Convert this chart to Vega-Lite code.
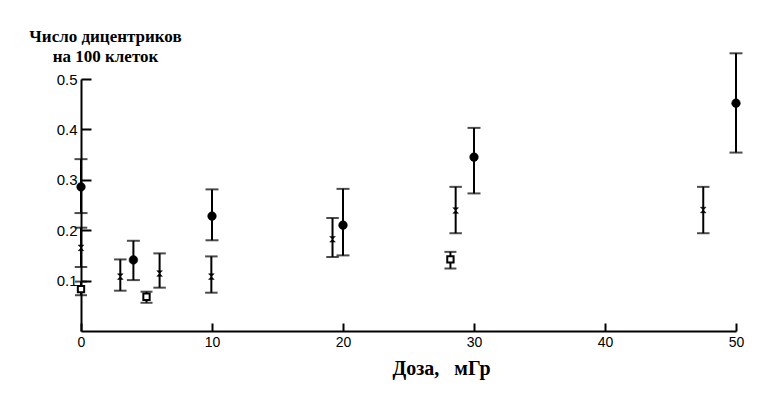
{
  "$schema": "https://vega.github.io/schema/vega-lite/v6.json",
  "width": 655,
  "height": 252,
  "autosize": {"type": "none"},
  "padding": {"left": 81, "top": 79, "right": 42, "bottom": 66},
  "background": "white",
  "config": {"view": {"stroke": null}},
  "data": {"values": [
    {"dose": 0, "series": "circle", "y": 0.286, "lo": 0.234, "hi": 0.341},
    {"dose": 4, "series": "circle", "y": 0.141, "lo": 0.101, "hi": 0.179},
    {"dose": 10, "series": "circle", "y": 0.228, "lo": 0.180, "hi": 0.281},
    {"dose": 20, "series": "circle", "y": 0.210, "lo": 0.150, "hi": 0.282},
    {"dose": 30, "series": "circle", "y": 0.345, "lo": 0.273, "hi": 0.403},
    {"dose": 50, "series": "circle", "y": 0.452, "lo": 0.354, "hi": 0.551},
    {"dose": 0, "series": "cross", "y": 0.165, "lo": 0.127, "hi": 0.205},
    {"dose": 3, "series": "cross", "y": 0.108, "lo": 0.080, "hi": 0.142},
    {"dose": 6, "series": "cross", "y": 0.114, "lo": 0.086, "hi": 0.154},
    {"dose": 9.95, "series": "cross", "y": 0.108, "lo": 0.076, "hi": 0.148},
    {"dose": 19.2, "series": "cross", "y": 0.182, "lo": 0.147, "hi": 0.224},
    {"dose": 28.6, "series": "cross", "y": 0.239, "lo": 0.194, "hi": 0.286},
    {"dose": 47.5, "series": "cross", "y": 0.240, "lo": 0.194, "hi": 0.286},
    {"dose": 0, "series": "square", "y": 0.083, "lo": 0.071, "hi": 0.098},
    {"dose": 5, "series": "square", "y": 0.068, "lo": 0.056, "hi": 0.078},
    {"dose": 28.2, "series": "square", "y": 0.142, "lo": 0.124, "hi": 0.157}
  ]},
  "encoding": {
    "x": {
      "field": "dose", "type": "quantitative",
      "scale": {"domain": [0, 50], "nice": false, "zero": false},
      "axis": {
        "values": [0, 10, 20, 30, 40, 50], "format": "d",
        "grid": false, "domainColor": "black", "domainWidth": 2,
        "tickColor": "black", "tickWidth": 2, "tickSize": -8,
        "labelPadding": 12, "labelFont": "Liberation Sans", "labelFontSize": 14,
        "labelColor": "black", "labelFlush": false,
        "title": "Доза,\u00a0\u00a0\u00a0мГр",
        "titleFont": "Liberation Serif", "titleFontWeight": "bold", "titleFontSize": 20,
        "titleColor": "black", "titleX": 360, "titleY": 43,
        "titleAlign": "center", "titleBaseline": "alphabetic"
      }
    }
  },
  "layer": [
    {
      "mark": {"type": "rule", "color": "black", "strokeWidth": 2},
      "encoding": {
        "y": {
          "field": "lo", "type": "quantitative",
          "scale": {"domain": [0, 0.5], "nice": false, "zero": false},
          "axis": {
            "values": [0.1, 0.2, 0.3, 0.4, 0.5], "format": ".1f",
            "grid": false, "domainColor": "black", "domainWidth": 2,
            "tickColor": "black", "tickWidth": 2, "tickSize": -10,
            "labelPadding": 14, "labelFont": "Liberation Sans", "labelFontSize": 15,
            "labelColor": "black", "labelFlush": false,
            "title": ["Число дицентриков", "на 100 клеток"],
            "titleFont": "Liberation Serif", "titleFontWeight": "bold", "titleFontSize": 17,
            "titleLineHeight": 20, "titleColor": "black", "titleAngle": 0,
            "titleX": 24, "titleY": -38, "titleAlign": "center", "titleBaseline": "alphabetic"
          }
        },
        "y2": {"field": "hi"}
      }
    },
    {
      "mark": {"type": "tick", "orient": "horizontal", "color": "black", "thickness": 2},
      "encoding": {
        "y": {"field": "lo", "type": "quantitative"},
        "size": {"field": "series", "type": "nominal",
                 "scale": {"domain": ["circle", "cross", "square"], "range": [13, 12, 10]},
                 "legend": null}
      }
    },
    {
      "mark": {"type": "tick", "orient": "horizontal", "color": "black", "thickness": 2},
      "encoding": {
        "y": {"field": "hi", "type": "quantitative"},
        "size": {"field": "series", "type": "nominal",
                 "scale": {"domain": ["circle", "cross", "square"], "range": [13, 12, 10]},
                 "legend": null}
      }
    },
    {
      "transform": [{"filter": "datum.series === 'circle'"}],
      "mark": {"type": "point", "shape": "circle", "filled": true, "fill": "black", "stroke": "black", "strokeWidth": 0.5, "opacity": 1, "size": 75},
      "encoding": {"y": {"field": "y", "type": "quantitative"}}
    },
    {
      "transform": [{"filter": "datum.series === 'cross'"}],
      "mark": {"type": "point", "shape": "M-1,-1L1,-1L-1,1L1,1Z", "filled": true, "fill": "black", "stroke": "black", "strokeWidth": 0.5, "opacity": 1, "size": 32},
      "encoding": {"y": {"field": "y", "type": "quantitative"}}
    },
    {
      "transform": [{"filter": "datum.series === 'square'"}],
      "mark": {"type": "point", "shape": "square", "filled": false, "fill": "white", "fillOpacity": 1, "stroke": "black", "strokeWidth": 2, "opacity": 1, "size": 40},
      "encoding": {"y": {"field": "y", "type": "quantitative"}}
    }
  ]
}
